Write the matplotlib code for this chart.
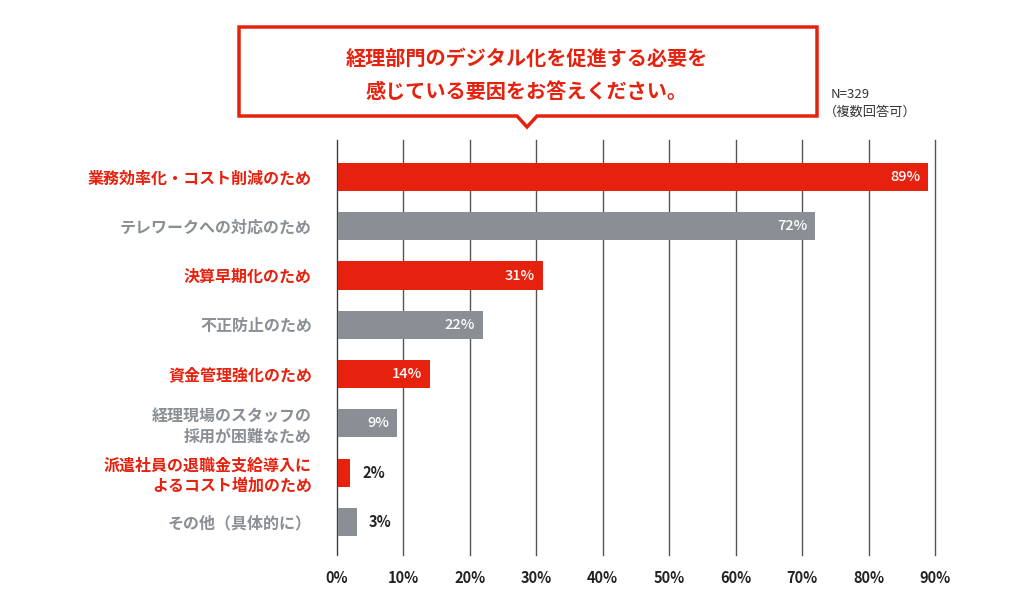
import matplotlib.pyplot as plt
from matplotlib.patches import Polygon

plt.rcParams['font.family'] = ['Noto Sans CJK JP', 'DejaVu Sans']

labels = ['業務効率化・コスト削減のため', 'テレワークへの対応のため', '決算早期化のため', '不正防止のため',
          '資金管理強化のため', '経理現場のスタッフの\n採用が困難なため', '派遣社員の退職金支給導入に\nよるコスト増加のため',
          'その他（具体的に）']
values = [89, 72, 31, 22, 14, 9, 2, 3]
highlight = [True, False, True, False, True, False, True, False]
ticks = [0, 10, 20, 30, 40, 50, 60, 70, 80, 90]
title = '経理部門のデジタル化を促進する必要を\n感じている要因をお答えください。'
note_n = 'N=329'
note_multi = '（複数回答可）'

RED = '#E6220F'
GRAY = '#8A8F95'

W, H = 1024, 614
fig = plt.figure(figsize=(W / 100, H / 100), dpi=100)
ax = fig.add_axes([337 / W, 1 - 555 / H, (935 - 337) / W, (555 - 140) / H])

ypos = list(range(len(values)))
colors = [RED if h else GRAY for h in highlight]
ax.barh(ypos, values, height=0.57, color=colors, zorder=3)

ax.set_xlim(0, 90)
ax.set_ylim(len(values) - 0.33, -0.75)
ax.set_xticks(ticks)
ax.set_xticklabels([f'{t}%' for t in ticks], fontsize=10.5, fontweight='bold', color='#222222')
ax.tick_params(axis='x', length=0, pad=11)
ax.set_yticks(ypos)
ax.set_yticklabels(labels, fontsize=11.5, fontweight='bold', linespacing=1.3)
ax.tick_params(axis='y', length=0, pad=18)
for lab, h in zip(ax.get_yticklabels(), highlight):
    lab.set_color(RED if h else GRAY)
    lab.set_multialignment('right')

for t in ticks:
    ax.axvline(t, color='#555555', lw=1, zorder=1, clip_on=False)
for s in ax.spines.values():
    s.set_visible(False)
ax.axvline(0, color='#333333', lw=1.2, zorder=4)

for y, v in zip(ypos, values):
    if v >= 5:
        ax.text(v - 1.2, y, f'{v}%', ha='right', va='center', color='white',
                fontsize=10.5, fontweight='medium', zorder=5)
    else:
        ax.text(v + 1.8, y, f'{v}%', ha='left', va='center', color='#222222',
                fontsize=10.5, fontweight='bold', zorder=5)

# speech-bubble title box
pts = [(239, 27), (817, 27), (817, 116), (537, 116), (527, 127), (517, 116), (239, 116)]
box = Polygon([(x / W, 1 - y / H) for x, y in pts], closed=True, transform=fig.transFigure,
              facecolor='white', edgecolor=RED, lw=2.5, joinstyle='miter')
fig.patches.append(box)
fig.text(527 / W, 1 - 75 / H, title, ha='center', va='center', color=RED,
         fontsize=14.5, fontweight='bold', linespacing=1.75)
fig.text(831 / W, 1 - 95 / H, note_n, ha='left', va='center', color='#333333', fontsize=9.5)
fig.text(824 / W, 1 - 112 / H, note_multi, ha='left', va='center', color='#333333', fontsize=9.5)

fig.savefig('out.png', dpi=100, facecolor='white')
